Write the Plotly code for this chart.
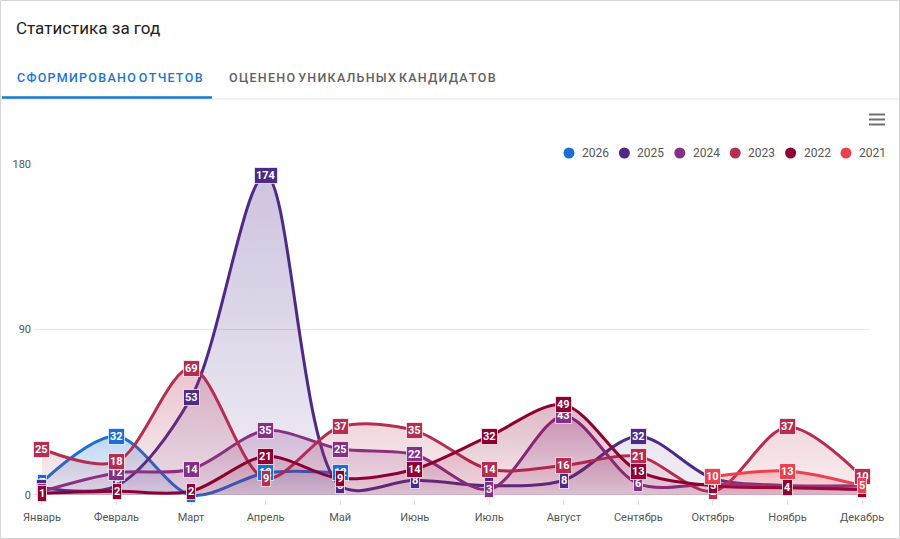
import plotly.graph_objects as go

W, H = 900, 539

months = ["Январь", "Февраль", "Март", "Апрель", "Май", "Июнь", "Июль",
          "Август", "Сентябрь", "Октябрь", "Ноябрь", "Декабрь"]
years = ["2026", "2025", "2024", "2023", "2022", "2021"]
colors = ["#1a6fd6", "#4d2a88", "#862f86", "#b52d50", "#8e0033", "#eb4250"]

v2026 = [7, 32, 0, 12, 12, None, None, None, None, None, None, None]
v2025 = [4, 5, 53, 174, 5, 8, 5, 8, 32, 9, 5, 3]
v2024 = [2, 12, 14, 35, 25, 22, 3, 43, 6, 6, 5, 5]
v2023 = [25, 18, 69, 9, 37, 35, 14, 16, 21, 2, 37, 10]
v2022 = [1, 2, 2, 21, 9, 14, 32, 49, 13, 5, 4, 3]
v2021 = [None, None, None, None, None, None, None, None, None, 10, 13, 5]
series = [v2026, v2025, v2024, v2023, v2022, v2021]

ytick_vals = [0, 90, 180]

# layout geometry (pixels)
ML, MR, MT, MB = 34, 30, 164, 40
PW, PH = W - ML - MR, H - MT - MB


def px(x):
    return (x - ML) / PW


def py(y):
    return (H - MB - y) / PH


def rgba(hexc, a):
    h = hexc.lstrip("#")
    r, g, b = int(h[0:2], 16), int(h[2:4], 16), int(h[4:6], 16)
    return f"rgba({r},{g},{b},{a})"


def spaced(s):
    return " ".join("\u200a".join(list(w)) for w in s.split(" "))


fig = go.Figure()

for name, vals, col in zip(years, series, colors):
    top = max(v for v in vals if v is not None)
    fig.add_trace(go.Scatter(
        x=months, y=vals, name=name, mode="lines",
        line=dict(color=col, width=3, shape="spline", smoothing=0.9),
        fill="tozeroy", fillcolor=rgba(col, 0.18),
        fillgradient=dict(type="vertical", start=0, stop=top,
                          colorscale=[[0, rgba(col, 0.08)], [1, rgba(col, 0.28)]]),
        showlegend=False, hoverinfo="skip", connectgaps=False,
    ))

annotations = []
# data labels
for name, vals, col in zip(years, series, colors):
    for m, v in zip(months, vals):
        if v is None:
            continue
        annotations.append(dict(
            x=m, y=v, xref="x", yref="y", text=f"<b>{v}</b>",
            showarrow=False, font=dict(family="Roboto", size=11, color="white"),
            bgcolor=col, bordercolor="rgba(255,255,255,0.7)", borderwidth=1,
            borderpad=1, xanchor="center", yanchor="middle",
        ))

# title and tabs
annotations.append(dict(
    x=px(14), y=py(28), xref="paper", yref="paper", xanchor="left", yanchor="middle",
    text="Статистика за год", showarrow=False,
    font=dict(family="Roboto", size=17, color="#222222"),
))
annotations.append(dict(
    x=px(15), y=py(77), xref="paper", yref="paper", xanchor="left", yanchor="middle",
    text=spaced("СФОРМИРОВАНО ОТЧЕТОВ"), showarrow=False,
    font=dict(family="Roboto", size=12.5, color="#1976d2", weight=500),
))
annotations.append(dict(
    x=px(227), y=py(77), xref="paper", yref="paper", xanchor="left", yanchor="middle",
    text=spaced("ОЦЕНЕНО УНИКАЛЬНЫХ КАНДИДАТОВ"), showarrow=False,
    font=dict(family="Roboto", size=12.5, color="#616161", weight=500),
))

shapes = [
    # card border
    dict(type="rect", xref="paper", yref="paper", x0=px(0.5), x1=px(899.5),
         y0=py(0.5), y1=py(538.5), line=dict(color="#d6d6d6", width=1), layer="below"),
    # tab separator
    dict(type="line", xref="paper", yref="paper", x0=px(1), x1=px(899),
         y0=py(99), y1=py(99), line=dict(color="#e3e3e3", width=1)),
    # active tab underline
    dict(type="line", xref="paper", yref="paper", x0=px(2), x1=px(212),
         y0=py(97.5), y1=py(97.5), line=dict(color="#1976d2", width=2.5)),
]
# hamburger icon
for yy in (114.5, 119.5, 124.5):
    shapes.append(dict(type="line", xref="paper", yref="paper", x0=px(869), x1=px(885),
                       y0=py(yy), y1=py(yy), line=dict(color="#6e6e6e", width=2)))

# legend (manual: circle + text)
leg_x0, leg_dx, leg_y, r = 569, 55.4, 153, 5.5
for i, (name, col) in enumerate(zip(years, colors)):
    cx = leg_x0 + i * leg_dx
    shapes.append(dict(type="circle", xref="paper", yref="paper",
                       x0=px(cx - r), x1=px(cx + r), y0=py(leg_y + r), y1=py(leg_y - r),
                       fillcolor=col, line=dict(color=col, width=0)))
    annotations.append(dict(
        x=px(cx + 11), y=py(leg_y), xref="paper", yref="paper",
        xanchor="left", yanchor="middle", text=name, showarrow=False,
        font=dict(family="Roboto", size=12, color="#555555"),
    ))

fig.update_layout(
    width=W, height=H,
    margin=dict(l=ML, r=MR, t=MT, b=MB, pad=0),
    paper_bgcolor="white", plot_bgcolor="white",
    font=dict(family="Roboto", size=11, color="#555555"),
    annotations=annotations, shapes=shapes,
    showlegend=False,
    xaxis=dict(
        type="category", range=[-0.107, 11.107], showgrid=False, zeroline=False,
        showline=False, ticks="outside", ticklen=5, tickcolor="#e0e0e0",
        tickfont=dict(family="Roboto", size=11, color="#555555"),
        ticklabelstandoff=3, fixedrange=True,
    ),
    yaxis=dict(
        range=[-2.18, 180], tickvals=ytick_vals, ticktext=[str(v) for v in ytick_vals],
        showgrid=True, gridcolor="#e8e8e8", gridwidth=1, zeroline=False,
        showline=False, tickfont=dict(family="Roboto", size=11, color="#555555"),
        ticklabelstandoff=2, fixedrange=True,
    ),
    hovermode=False,
)

fig.write_html("out.html")
